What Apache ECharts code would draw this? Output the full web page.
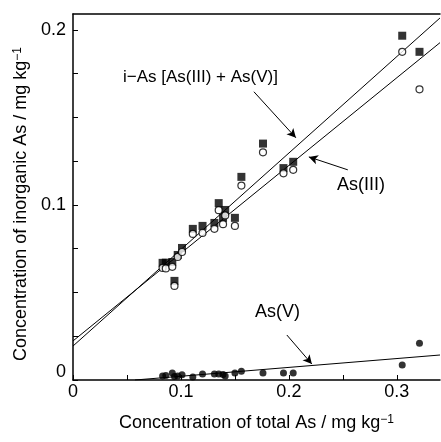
<!DOCTYPE html>
<html>
<head>
<meta charset="utf-8">
<script src="https://cdn.jsdelivr.net/npm/echarts@6/dist/echarts.min.js"></script>
<style>
html,body{margin:0;padding:0;background:#fff}
#main{width:441px;height:442px}
</style>
</head>
<body>
<div id="main"></div>
<script>
// total As (x) for each sample
var totalAs = [0.083, 0.086, 0.092, 0.094, 0.097, 0.101, 0.111, 0.120, 0.131, 0.135,
               0.139, 0.141, 0.150, 0.156, 0.176, 0.195, 0.204, 0.305, 0.321];
// i-As = As(III) + As(V)  (filled squares)
var iAs = [0.0669, 0.0670, 0.0674, 0.0566, 0.0714, 0.0754, 0.0863, 0.0880, 0.0897, 0.1010,
           0.0926, 0.0971, 0.0926, 0.1160, 0.1350, 0.1210, 0.1246, 0.1966, 0.1874];
// As(III) (open circles)
var as3 = [0.0640, 0.0637, 0.0646, 0.0537, 0.0703, 0.0731, 0.0834, 0.0840, 0.0863, 0.0970,
           0.0890, 0.0940, 0.0880, 0.1110, 0.1300, 0.1180, 0.1200, 0.1874, 0.1660];
// As(V) (filled dots)
var as5 = [0.0023, 0.0025, 0.0040, 0.0020, 0.0023, 0.0030, 0.0017, 0.0034, 0.0034, 0.0034,
           0.0031, 0.0023, 0.0040, 0.0050, 0.0040, 0.0040, 0.0040, 0.0086, 0.0210];
// regression lines: [intercept, slope]
var fitIAs = [0.0194, 0.551];
var fitAs3 = [0.0223, 0.501];
var fitAs5 = [-0.0029, 0.0505];

var xMax = 0.34, yMax = 0.209;
var font = 'Liberation Sans, Arial, sans-serif';

function pairs(ys) {
  return totalAs.map(function (x, i) { return [x, ys[i]]; });
}
function fitLine(f, x0, x1) {
  return [[x0, f[0] + f[1] * x0], [x1, f[0] + f[1] * x1]];
}
function arrow(a, b) {
  return { type: 'line', silent: true, symbol: 'none', symbolSize: 0,
    data: [], markLine: { silent: true, symbol: ['none', 'arrow'], symbolSize: [7, 9],
      lineStyle: { color: '#000', width: 1, type: 'solid' }, label: { show: false },
      data: [[{ coord: a }, { coord: b }]] } };
}
function tenths(v) {
  if (Math.abs(v * 10 - Math.round(v * 10)) > 1e-6) return '';
  return v === 0 ? '0' : v.toFixed(1);
}

var lineStyle = { color: '#000', width: 1 };
var myChart = echarts.init(document.getElementById('main'));
var option = {
  animation: false,
  backgroundColor: '#fff',
  textStyle: { fontFamily: font, color: '#000' },
  grid: { left: 73, top: 14, right: 1, bottom: 62 },
  xAxis: [{
    type: 'value', min: 0, max: xMax, interval: 0.05,
    name: 'Concentration of total As / mg kg{sup|\u22121}',
    nameLocation: 'middle', nameGap: 34,
    nameTextStyle: { fontSize: 18, fontFamily: font, color: '#000',
      rich: { sup: { fontSize: 12, verticalAlign: 'top', lineHeight: 12, fontFamily: font } } },
    axisLine: { lineStyle: { color: '#000', width: 1.5 } },
    axisTick: { inside: true, length: 5, lineStyle: { color: '#000' } },
    axisLabel: { fontSize: 18, color: '#000', margin: 3, showMaxLabel: false, formatter: tenths },
    splitLine: { show: false }
  }, {
    type: 'value', min: 0, max: xMax, position: 'top',
    axisLine: { show: true, lineStyle: { color: '#000', width: 1.5 } },
    axisTick: { show: false }, axisLabel: { show: false }, splitLine: { show: false }
  }],
  yAxis: {
    type: 'value', min: 0, max: yMax, interval: 0.025,
    name: 'Concentration of inorganic As / mg kg{sup|\u22121}',
    nameLocation: 'middle', nameGap: 42,
    nameTextStyle: { fontSize: 18, fontFamily: font, color: '#000', padding: [0, 14, 0, 0],
      rich: { sup: { fontSize: 12, verticalAlign: 'top', lineHeight: 12, fontFamily: font } } },
    axisLine: { lineStyle: { color: '#000', width: 1.5 } },
    axisTick: { inside: true, length: 5, lineStyle: { color: '#000' } },
    axisLabel: { fontSize: 18, color: '#000', margin: 7, showMaxLabel: false,
      formatter: function (v) { var t = tenths(v); return t === '0' ? '{z|0}' : t; },
      rich: { z: { fontSize: 18, padding: [0, 0, 16, 0] } } },
    splitLine: { show: false }
  },
  graphic: [
    { type: 'text', left: 123, top: 69, style: { text: 'i\u2212As [As(III) + As(V)]', font: '17px ' + font, fill: '#000' } },
    { type: 'text', left: 337, top: 176, style: { text: 'As(III)', font: '18px ' + font, fill: '#000' } },
    { type: 'text', left: 255, top: 303, style: { text: 'As(V)', font: '18px ' + font, fill: '#000' } }
  ],
  series: [
    { name: 'i-As fit', type: 'line', data: fitLine(fitIAs, 0, xMax), symbol: 'none', lineStyle: lineStyle, z: 1 },
    { name: 'As(III) fit', type: 'line', data: fitLine(fitAs3, 0, xMax), symbol: 'none', lineStyle: lineStyle, z: 1 },
    { name: 'As(V) fit', type: 'line', data: fitLine(fitAs5, -fitAs5[0] / fitAs5[1], xMax), symbol: 'none', lineStyle: lineStyle, z: 1 },
    { name: 'i-As', type: 'scatter', data: pairs(iAs), symbol: 'rect', symbolSize: 8,
      itemStyle: { color: '#000' }, z: 2 },
    { name: 'As(III)', type: 'scatter', data: pairs(as3), symbol: 'circle', symbolSize: 7,
      itemStyle: { color: '#fff', borderColor: '#000', borderWidth: 1.2 }, z: 3 },
    { name: 'As(V)', type: 'scatter', data: pairs(as5), symbol: 'circle', symbolSize: 7,
      itemStyle: { color: '#000' }, z: 2 },
    arrow([0.1676, 0.1646], [0.2065, 0.1383]),
    arrow([0.2546, 0.1200], [0.2185, 0.1274]),
    arrow([0.1981, 0.0257], [0.2213, 0.0091])
  ]
};
myChart.setOption(option);
</script>
</body>
</html>
